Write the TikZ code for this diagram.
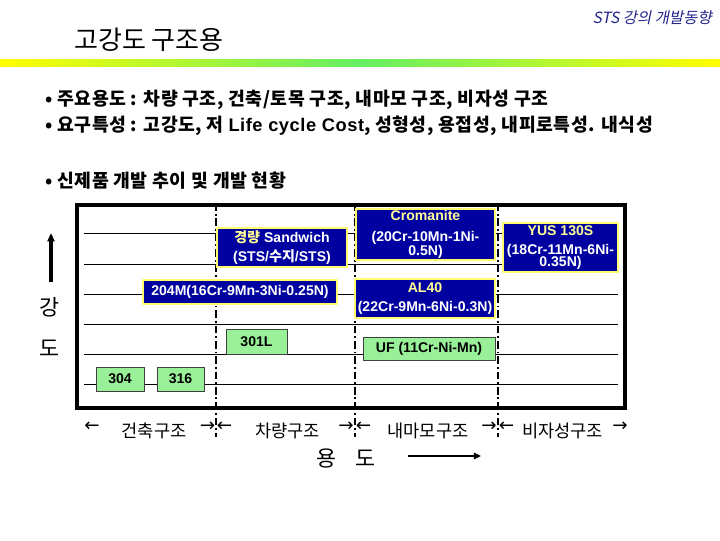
\documentclass[tikz,border=0pt]{standalone}
\usepackage{fontspec}
\setmainfont{Liberation Sans}
\newfontfamily\kr{Noto Sans CJK KR}
\newfontfamily\krwide{Noto Sans CJK KR}[LetterSpace=3]
\newfontfamily\latwide{Liberation Sans}[LetterSpace=3]
\newfontfamily\krsl{Noto Sans CJK KR}[FakeSlant=0.2]
\newfontfamily\symfont{DejaVu Sans}
\usepackage{tikz}
\usetikzlibrary{arrows.meta,positioning}
\definecolor{navy}{RGB}{35,35,140}
\definecolor{boxblue}{RGB}{0,0,160}
\definecolor{boxrim}{RGB}{255,255,110}
\definecolor{boxyel}{RGB}{255,255,150}
\definecolor{boxgreen}{RGB}{153,240,153}
\definecolor{barY}{RGB}{255,255,0}
\definecolor{barG}{RGB}{100,238,100}

\begin{document}
\begin{tikzpicture}[x=0.025cm,y=-0.025cm,
  font=\bfseries\fontsize{10}{14}\selectfont,
  sz/.style 2 args={minimum width=#1*0.025cm,minimum height=#2*0.025cm},
  bluebox/.style={draw=boxrim,line width=1.2pt,fill=boxblue,text=white,align=center,inner sep=0pt},
  greenbox/.style={draw=black!75,line width=0.5pt,fill=boxgreen,inner sep=0pt},
  gridln/.style={line width=0.6pt},
  divider/.style={line width=1.8pt,dash pattern=on 5.5pt off 2pt on 1.4pt off 2pt},
  bullet/.style={anchor=west,inner sep=0pt,font=\krwide\bfseries\fontsize{13}{15}\selectfont},
  usage/.style={inner sep=0pt,font=\kr\fontsize{12.5}{14}\selectfont},
  tick/.style={inner sep=0pt,font=\symfont\fontsize{13}{14}\selectfont},
  axislab/.style={inner sep=0pt,font=\kr\fontsize{15.5}{18}\selectfont},
  bigarrow/.style={line width=2.5pt,-{Triangle[length=6pt,width=5pt]}}]
\useasboundingbox (0,0) rectangle (720,540);

% ---- header and title ----
\node[anchor=east,inner sep=0pt,text=navy,font=\krsl\fontsize{11}{12}\selectfont] (hdr) at (712,18) {STS 강의 개발동향};
\node[anchor=west,inner sep=0pt,font=\kr\fontsize{18.5}{20}\selectfont] (ttl) at (74,40) {고강도 구조용};
\shade[left color=barY,right color=barG] (0,59) rectangle (360,66);
\shade[left color=barG,right color=barY] (360,59) rectangle (720,66);

\node[bullet] (b1) at (45,100) {• 주요용도 : 차량 구조, 건축/토목 구조, 내마모 구조, 비자성 구조};
\node[bullet] (b2) at (45,126) {• 요구특성 : 고강도, 저 {\latwide Life cycle Cost}, 성형성, 용접성, 내피로특성. 내식성};
\node[bullet] (b3) at (45,181) {• 신제품 개발 추이 및 개발 현황};

% ---- chart: grid, frame, dividers ----
\foreach \y in {233,264,294,324,354,384}
  \draw[gridln] (84,\y) -- (618,\y);
\draw[line width=2.5pt] (77,205) rectangle (625,408);
\foreach \x in {216,355,498}
  \draw[divider] (\x,203) -- (\x,437);

% ---- steel grades ----
\node[bluebox,sz={130}{39}] (sand) at (282,247.5) {{\color{boxyel}\kr 경량} Sandwich\\(STS/{\kr 수지}/STS)};
\node[bluebox,sz={194}{24}] (m204) at (240,292) {204M(16Cr-9Mn-3Ni-0.25N)};
\node[greenbox,sz={61}{25}] (l301) at (256.5,341.5) {301L};
\node[greenbox,sz={48}{24}] (s304) at (120,379) {304};
\node[greenbox,sz={47}{24}] (s316) at (180.5,379) {316};
\node[bluebox,sz={139}{51}] (crom) at (425.5,234.5) {{\color{boxyel}Cromanite}\\[1pt](20Cr-10Mn-1Ni-\\[-4pt]0.5N)};
\node[bluebox,sz={115}{49}] (yus) at (560.5,247.5) {{\color{boxyel}YUS 130S}\\[0pt](18Cr-11Mn-6Ni-\\[-5.5pt]0.35N)};
\node[bluebox,sz={140}{39}] (al40) at (425,298.5) {{\color{boxyel}AL40}\\(22Cr-9Mn-6Ni-0.3N)};
\node[greenbox,sz={132}{23}] (uf) at (429,348.5) {UF (11Cr-Ni-Mn)};

% ---- strength axis ----
\node[axislab] (kang) at (50,307) {강};
\node[axislab] (kdo) at (50,348) {도};
\coordinate (kA) at (51,282);
\coordinate (kB) at (51,233);
\draw[bigarrow] (kA) -- (kB);

% ---- usage axis ----
\foreach \i/\xc/\lab/\xl/\xr in {1/154/건축구조/84/215.5,2/287.5/차량구조/216.5/354,
                                 3/428/내마모구조/355.5/497,4/562.5/비자성구조/498.5/628}{
  \node[usage] (u\i) at (\xc,431) {\lab};
  \node[tick,anchor=west] (ul\i) at (\xl,427) {←};
  \node[tick,anchor=east] (ur\i) at (\xr,427) {→};
}
\node[axislab] (yongdo) at (346,458) {용\hspace{13pt}도};
\coordinate (yA) at (408,456);
\coordinate (yB) at (481,456);
\draw[line width=2pt,-{Triangle[length=5pt,width=4.5pt]}] (yA) -- (yB);
\end{tikzpicture}
\end{document}
